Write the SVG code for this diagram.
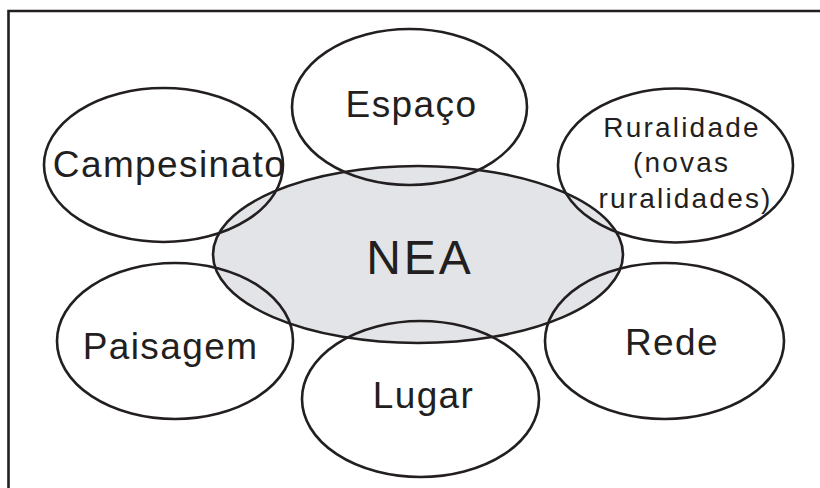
<svg xmlns="http://www.w3.org/2000/svg" width="820" height="488" viewBox="0 0 820 488">
<style>
  .ell { fill: none; stroke: #231f20; stroke-width: 2.6; }
  .core { fill: #e3e4e8; stroke: #231f20; stroke-width: 2.6; }
  text { font-family: "Liberation Sans", Arial, sans-serif; fill: #231f20; text-anchor: middle; }
  .lbl { font-size: 37px; letter-spacing: 1.4px; }
  .small { font-size: 28px; letter-spacing: 2.2px; }
  .big { font-size: 48px; letter-spacing: 3px; }
</style>
<rect width="820" height="488" fill="#ffffff"/>
<path d="M8.5,488 V11 H820" fill="none" stroke="#231f20" stroke-width="2.6"/>
<g id="nea">
  <ellipse class="core" cx="418" cy="254.5" rx="205" ry="88.5"/>
  <text class="big" x="420" y="274">NEA</text>
</g>
<g id="espaco">
  <ellipse class="ell" cx="409.5" cy="107" rx="117.5" ry="78"/>
  <text class="lbl" x="411.5" y="117">Espaço</text>
</g>
<g id="campesinato">
  <ellipse class="ell" cx="163.5" cy="165" rx="119.5" ry="77"/>
  <text class="lbl" x="169.5" y="177">Campesinato</text>
</g>
<g id="ruralidade">
  <ellipse class="ell" cx="675.5" cy="165.5" rx="117.5" ry="77"/>
  <text class="small" x="682" y="137">Ruralidade</text>
  <text class="small" x="681.5" y="172">(novas</text>
  <text class="small" x="685.5" y="208">ruralidades)</text>
</g>
<g id="paisagem">
  <ellipse class="ell" cx="175" cy="341" rx="118" ry="78"/>
  <text class="lbl" x="170.5" y="359">Paisagem</text>
</g>
<g id="lugar">
  <ellipse class="ell" cx="420.5" cy="399" rx="118.5" ry="78"/>
  <text class="lbl" x="423.5" y="408">Lugar</text>
</g>
<g id="rede">
  <ellipse class="ell" cx="664.5" cy="341" rx="119.5" ry="78"/>
  <text class="lbl" x="672" y="355">Rede</text>
</g>
<g id="connectors"></g>
</svg>
